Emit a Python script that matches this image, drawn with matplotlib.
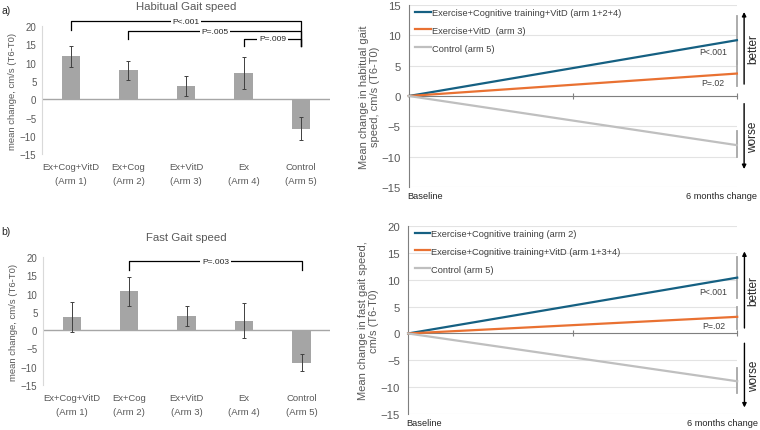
import matplotlib.pyplot as plt
import numpy as np

plt.rcParams['font.family'] = ['Liberation Sans', 'DejaVu Sans']

# bar charts (left)
arms = ["Ex+Cog+VitD\n(Arm 1)", "Ex+Cog\n(Arm 2)", "Ex+VitD\n(Arm 3)", "Ex\n(Arm 4)", "Control\n(Arm 5)"]
hab_mean = [11.8, 7.9, 3.6, 7.2, -8.1]
hab_lo = [8.9, 5.4, 0.9, 2.9, -11.1]
hab_hi = [14.6, 10.6, 6.3, 11.5, -4.9]
fast_mean = [3.7, 10.6, 3.8, 2.6, -8.9]
fast_lo = [-0.4, 6.7, 1.1, -2.1, -11.3]
fast_hi = [7.6, 14.4, 6.7, 7.3, -6.4]

# brackets: (from arm, to arm, top, left leg end, right leg end, label)
hab_brackets = [(0, 4, 21.4, 18.9, 14.5, "P<.001"),
                (1, 4, 18.6, 16.5, 14.5, "P=.005"),
                (3, 4, 16.5, 14.5, 14.5, "P=.009")]
fast_brackets = [(1, 4, 18.8, 16.5, 16.5, "P=.003")]

# line charts (right)
time_labels = ["Baseline", "6 months change"]
hab_groups = ["Exercise+Cognitive training+VitD (arm 1+2+4)", "Exercise+VitD  (arm 3)", "Control (arm 5)"]
hab_end = [9.2, 3.7, -8.1]
hab_end_lo = [5.3, 1.6, -10.1]
hab_end_hi = [13.2, 5.8, -5.7]
hab_p = ["P<.001", "P=.02"]
hab_p_y = [7.4, 2.3]
fast_groups = ["Exercise+Cognitive training (arm 2)", "Exercise+Cognitive training+VitD (arm 1+3+4)", "Control (arm 5)"]
fast_end = [10.4, 3.1, -8.9]
fast_end_lo = [6.7, 0.9, -11.0]
fast_end_hi = [14.2, 5.0, -6.5]
fast_p = ["P<.001", "P=.02"]
fast_p_y = [7.8, 1.5]

line_colors = ['#156082', '#E97132', '#BFBFBF']
txt = '#595959'


def bar_panel(ax, mean, lo, hi, brackets, title):
    x = np.arange(len(arms))
    err = [np.array(mean) - np.array(lo), np.array(hi) - np.array(mean)]
    ax.bar(x, mean, width=0.32, color='#A5A5A5', zorder=2)
    ax.errorbar(x, mean, yerr=err, fmt='none', ecolor='#404040', elinewidth=0.7,
                capsize=1.5, capthick=0.7, zorder=3)
    ax.axhline(0, color='#A6A6A6', lw=1, zorder=1)
    ax.set_xlim(-0.5, len(arms) - 0.5)
    ax.set_ylim(-15, 20)
    ax.set_yticks(range(-15, 21, 5))
    ax.set_xticks(x)
    ax.set_xticklabels(arms, fontsize=6.8, color=txt, linespacing=1.6)
    ax.tick_params(axis='x', length=0, pad=6)
    ax.tick_params(axis='y', length=0, labelsize=7, labelcolor=txt, pad=4)
    for s in ['top', 'right', 'bottom']:
        ax.spines[s].set_visible(False)
    ax.spines['left'].set_color('#D9D9D9')
    ax.set_ylabel("mean change, cm/s (T6-T0)", fontsize=6.8, color=txt, labelpad=2)
    ax.set_title(title, fontsize=8.2, color=txt, pad=12)
    for i, j, top, lend, rend, lab in brackets:
        ax.plot([x[i], x[i], x[j], x[j]], [lend, top, top, rend], color='black',
                lw=0.9, clip_on=False, zorder=4)
        ax.text((x[i] + x[j]) / 2, top, lab, ha='center', va='center', fontsize=6,
                color='#262626', bbox=dict(facecolor='white', edgecolor='none', pad=1.2),
                zorder=5, clip_on=False)


def line_panel(ax, groups, end, lo, hi, pvals, p_y, ylim, ylabel, better, worse):
    for g, v, c in zip(groups, end, line_colors):
        ax.plot([0, 1], [0, v], color=c, lw=1.6, label=g, zorder=3, clip_on=False)
    for v, l, h in zip(end, lo, hi):
        ax.plot([1, 1], [l, h], color='#A6A6A6', lw=1.3, zorder=2, clip_on=False)
    ax.set_xlim(0, 1)
    ax.set_ylim(*ylim)
    ax.set_yticks(range(ylim[0], ylim[1] + 1, 5))
    ax.yaxis.grid(True, color='#E3E3E3', lw=0.8)
    ax.set_axisbelow(True)
    ax.spines['bottom'].set_position(('data', 0))
    ax.spines['bottom'].set_color('#7F7F7F')
    ax.spines['left'].set_color('#7F7F7F')
    for s in ['top', 'right']:
        ax.spines[s].set_visible(False)
    ax.set_xticks([0.5, 1])
    ax.set_xticklabels([])
    ax.tick_params(axis='x', direction='inout', length=5, color='#7F7F7F')
    ax.tick_params(axis='y', length=0, labelsize=8.2, labelcolor=txt, pad=6)
    tr = ax.get_xaxis_transform()
    ax.text(0.049, -0.045, time_labels[0], transform=tr, ha='center', va='center',
            fontsize=6.7, color='#262626')
    ax.text(0.954, -0.045, time_labels[1], transform=tr, ha='center', va='center',
            fontsize=6.7, color='#262626')
    ax.set_ylabel(ylabel, fontsize=8, color=txt, labelpad=1, linespacing=1.15)
    ax.legend(loc='upper left', bbox_to_anchor=(0.0, 1.02), frameon=False, fontsize=6.7,
              handlelength=1.7, handletextpad=0.1, labelspacing=0.95, borderaxespad=0.3,
              labelcolor='#404040')
    for p, yy in zip(pvals, p_y):
        ax.text(0.928, yy, p, ha='center', va='center', fontsize=6.3, color='#404040')
    # better / worse arrows
    ax.annotate('', xy=(1.022, better[1]), xytext=(1.022, better[0]), xycoords='data',
                arrowprops=dict(arrowstyle='-|>', color='black', lw=1.0, mutation_scale=6),
                annotation_clip=False)
    ax.annotate('', xy=(1.022, worse[1]), xytext=(1.022, worse[0]), xycoords='data',
                arrowprops=dict(arrowstyle='-|>', color='black', lw=1.0, mutation_scale=6),
                annotation_clip=False)
    ax.text(1.05, (better[0] + better[1]) / 2, 'better', rotation=90, ha='center',
            va='center', fontsize=8.5, color='#262626', clip_on=False)
    ax.text(1.05, (worse[0] + worse[1]) / 2, 'worse', rotation=90, ha='center',
            va='center', fontsize=8.5, color='#262626', clip_on=False)


fig = plt.figure(figsize=(7.6, 4.31), dpi=100)
ax1 = fig.add_axes([0.0553, 0.640, 0.379, 0.297])
ax2 = fig.add_axes([0.0566, 0.1044, 0.378, 0.297])
ax3 = fig.add_axes([0.538, 0.5638, 0.4316, 0.4223])
ax4 = fig.add_axes([0.537, 0.0371, 0.433, 0.436])

bar_panel(ax1, hab_mean, hab_lo, hab_hi, hab_brackets, "Habitual Gait speed")
bar_panel(ax2, fast_mean, fast_lo, fast_hi, fast_brackets, "Fast Gait speed")
line_panel(ax3, hab_groups, hab_end, hab_end_lo, hab_end_hi, hab_p, hab_p_y, (-15, 15),
           "Mean change in habitual gait\nspeed, cm/s (T6-T0)", (1.5, 14.3), (-0.8, -12.5))
line_panel(ax4, fast_groups, fast_end, fast_end_lo, fast_end_hi, fast_p, fast_p_y, (-15, 20),
           "Mean change in fast gait speed,\ncm/s (T6-T0)", (0.5, 15.8), (-1.3, -14.3))

fig.text(0.002, 0.975, "a)", fontsize=7.5, va='center', color='#262626')
fig.text(0.002, 0.462, "b)", fontsize=7.5, va='center', color='#262626')

fig.savefig('out.png', dpi=100, facecolor='white')
